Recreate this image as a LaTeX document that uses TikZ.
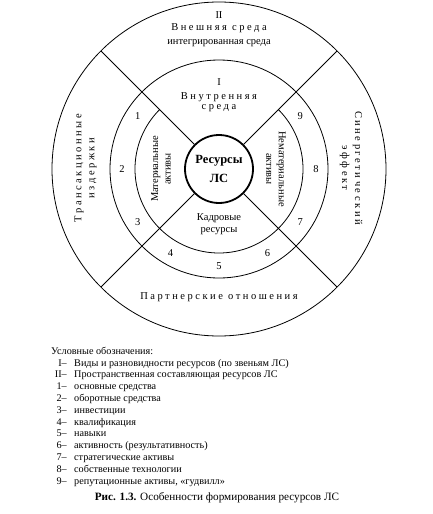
\documentclass[tikz,border=0pt]{standalone}
\usepackage{fontspec}
\setmainfont{Liberation Serif}
\newfontfamily\spacedfont[LetterSpace=24]{Liberation Serif}
\begin{document}
\begin{tikzpicture}[x=1pt,y=1pt,
  ring/.style={line width=0.8pt},
  lbl/.style={font=\fontsize{10.5}{12.5}\selectfont, inner sep=0pt, align=center},
  sp/.style={font=\fontsize{10.5}{13}\spacedfont, inner sep=0pt, align=center},
  num/.style={font=\fontsize{10.5}{12}\selectfont, inner sep=0pt},
  leg/.style={font=\fontsize{10.2}{12}\selectfont, inner sep=0pt}]
\useasboundingbox (-219,-345) rectangle (214,169);
\fill[white] (-219,-345) rectangle (214,169);
% rings
\draw[ring] (0,0) circle[radius=167];
\draw[ring] (0,0) circle[radius=109];
\draw[ring] (135:84) arc[start angle=135, end angle=405, radius=84];
\node[circle, draw, line width=1.8pt, minimum size=68pt, inner sep=0pt,
  font=\fontsize{12.5}{19}\selectfont\bfseries, align=center] (core) at (0,0) {Ресурсы\\ЛС};
\foreach \a in {45,135,225,315} {
  \coordinate (e\a) at (\a:167);
  \draw[ring] (core.\a) -- (e\a);
}
% outer band
\node[lbl] (t2) at (0,154) {II};
\node[sp] (t2a) at (0,141) {Внешняя среда};
\node[lbl] (t2b) at (0,126) {интегрированная среда};
\node[sp, rotate=90] (tl) at (-133.5,1) {Трансакционные\\издержки};
\node[sp, rotate=-90] (tr) at (132,1) {Синергетический\\эффект};
\node[sp] (tb) at (0,-128) {Партнерские отношения};
% inner
\node[lbl] (t1) at (0,87) {I};
\node[sp] (t1a) at (0,72) {Внутренняя};
\node[sp] (t1b) at (0,61) {среда};
\node[lbl, rotate=90] (ma) at (-58,0) {Материальные\\активы};
\node[lbl, rotate=-90] (na) at (57,0) {Нематериальные\\активы};
\node[lbl] (kr) at (0,-55) {Кадровые\\ресурсы};
% numbers
\foreach \n/\a in {1/147,2/180,3/213,4/240,5/270,6/300,7/327,8/360,9/33} {
  \node[num] (n\n) at (\a:97) {\n};
}
% legend
\node[leg, anchor=mid west] (lg0) at (-168,-183) {Условные обозначения:};
\foreach \k/\l/\t in {1/I/{Виды и разновидности ресурсов (по звеньям ЛС)},
  2/II/{Пространственная составляющая ресурсов ЛС},
  3/1/{основные средства},
  4/2/{оборотные средства},
  5/3/{инвестиции},
  6/4/{квалификация},
  7/5/{навыки},
  8/6/{активность (результативность)},
  9/7/{стратегические активы},
  10/8/{собственные технологии},
  11/9/{репутационные активы, «гудвилл»}} {
  \node[leg, anchor=mid east] (ll\k) at (-152,-183-11.8*\k) {\l–};
  \node[leg, anchor=mid west] (lt\k) at (-145,-183-11.8*\k) {\t};
}
\node[font=\fontsize{11.2}{13}\selectfont, inner sep=0pt] (cap) at (-2,-329) {\textbf{Рис. 1.3.} Особенности формирования ресурсов ЛС};
\end{tikzpicture}
\end{document}
